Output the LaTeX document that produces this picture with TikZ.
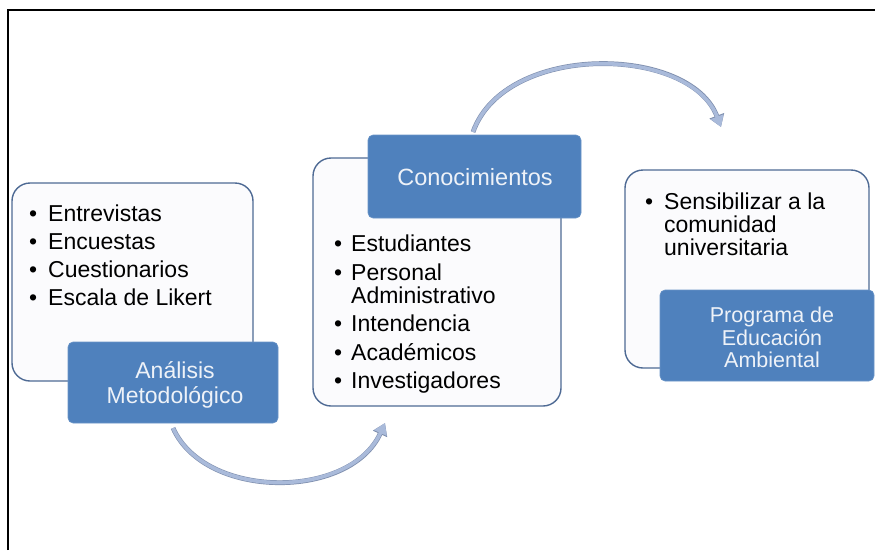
\documentclass[tikz,border=0pt]{standalone}
\usepackage{fontspec}
\setmainfont{Liberation Sans}
\usetikzlibrary{arrows.meta}
\definecolor{boxblue}{HTML}{4F81BD}
\definecolor{boxedge}{HTML}{4E6A94}
\definecolor{boxfill}{HTML}{FBFBFD}
\definecolor{arrowcol}{HTML}{A9BADA}
\definecolor{arrowedge}{HTML}{7F8FAE}
\definecolor{lighttext}{HTML}{EEF2F8}
\begin{document}
\begin{tikzpicture}[x=1pt,y=-1pt,
  listbox/.style={draw=boxedge,line width=1.4pt,fill=boxfill,rounded corners=18pt,inner sep=0pt},
  titlebox/.style={fill=boxblue,draw=boxblue!85!white,line width=0.6pt,rounded corners=5pt,inner sep=0pt},
  itemtxt/.style={anchor=base west,inner sep=0pt,font=\fontsize{23}{23}\selectfont},
  titletxt/.style={anchor=base,inner sep=0pt,text=lighttext},
  flowarrow/.style={line width=3.6pt,draw=arrowcol,-{Triangle[length=11pt,width=13pt]}},
  flowedge/.style={line width=4.8pt,draw=arrowedge,-{Triangle[length=12pt,width=15pt]}}]
\useasboundingbox (0,0) rectangle (875,550);
% frame
\draw[line width=2pt,black] (8,550) -- (8,10) -- (875,10);

% box 1
\node[listbox,minimum width=241pt,minimum height=198pt] (w1) at (132.5,282) {};
\node[titlebox,minimum width=210pt,minimum height=81pt] (b1) at (173,382.5) {};
\node[itemtxt] (l1a) at (29,221) {\makebox[19pt][l]{•}Entrevistas};
\node[itemtxt] (l1b) at (29,249) {\makebox[19pt][l]{•}Encuestas};
\node[itemtxt] (l1c) at (29,277) {\makebox[19pt][l]{•}Cuestionarios};
\node[itemtxt] (l1d) at (29,305) {\makebox[19pt][l]{•}Escala de Likert};
\node[titletxt,font=\fontsize{23}{23}\selectfont] (t1a) at (175,378) {Análisis};
\node[titletxt,font=\fontsize{23}{23}\selectfont] (t1b) at (175,403) {Metodológico};

% box 2
\node[listbox,minimum width=248pt,minimum height=248pt] (w2) at (437,282) {};
\node[titlebox,minimum width=213pt,minimum height=83pt] (b2) at (474.5,176.5) {};
\node[titletxt,font=\fontsize{23.5}{23.5}\selectfont] (t2) at (475,185) {Conocimientos};
\node[itemtxt] (l2a) at (334,251) {\makebox[17pt][l]{•}Estudiantes};
\node[itemtxt] (l2b) at (334,280) {\makebox[17pt][l]{•}Personal};
\node[itemtxt] (l2c) at (334,303) {\makebox[17pt][l]{}Administrativo};
\node[itemtxt] (l2d) at (334,331) {\makebox[17pt][l]{•}Intendencia};
\node[itemtxt] (l2e) at (334,360) {\makebox[17pt][l]{•}Académicos};
\node[itemtxt] (l2f) at (334,388) {\makebox[17pt][l]{•}Investigadores};

% box 3
\node[listbox,minimum width=244pt,minimum height=198pt] (w3) at (747,269) {};
\node[titlebox,minimum width=214pt,minimum height=91pt] (b3) at (767,335.5) {};
\node[itemtxt] (l3a) at (645,209) {\makebox[19pt][l]{•}Sensibilizar a la};
\node[itemtxt] (l3b) at (645,232) {\makebox[19pt][l]{}comunidad};
\node[itemtxt] (l3c) at (645,255) {\makebox[19pt][l]{}universitaria};
\node[titletxt,font=\fontsize{21.5}{21.5}\selectfont] (t3a) at (772,322) {Programa de};
\node[titletxt,font=\fontsize{21.5}{21.5}\selectfont] (t3b) at (772,345) {Educación};
\node[titletxt,font=\fontsize{21.5}{21.5}\selectfont] (t3c) at (772,367) {Ambiental};

% arrows
\coordinate (a1s) at (173,428);
\coordinate (a1e) at (385,423);
\coordinate (a2s) at (473,132);
\coordinate (a2e) at (721,127);
\draw[flowedge] (a1s) .. controls (205,500) and (350,500) .. (a1e);
\draw[flowarrow] (a1s) .. controls (205,500) and (350,500) .. (a1e);
\draw[flowedge] (a2s) .. controls (505,42) and (690,45) .. (a2e);
\draw[flowarrow] (a2s) .. controls (505,42) and (690,45) .. (a2e);
\end{tikzpicture}
\end{document}
